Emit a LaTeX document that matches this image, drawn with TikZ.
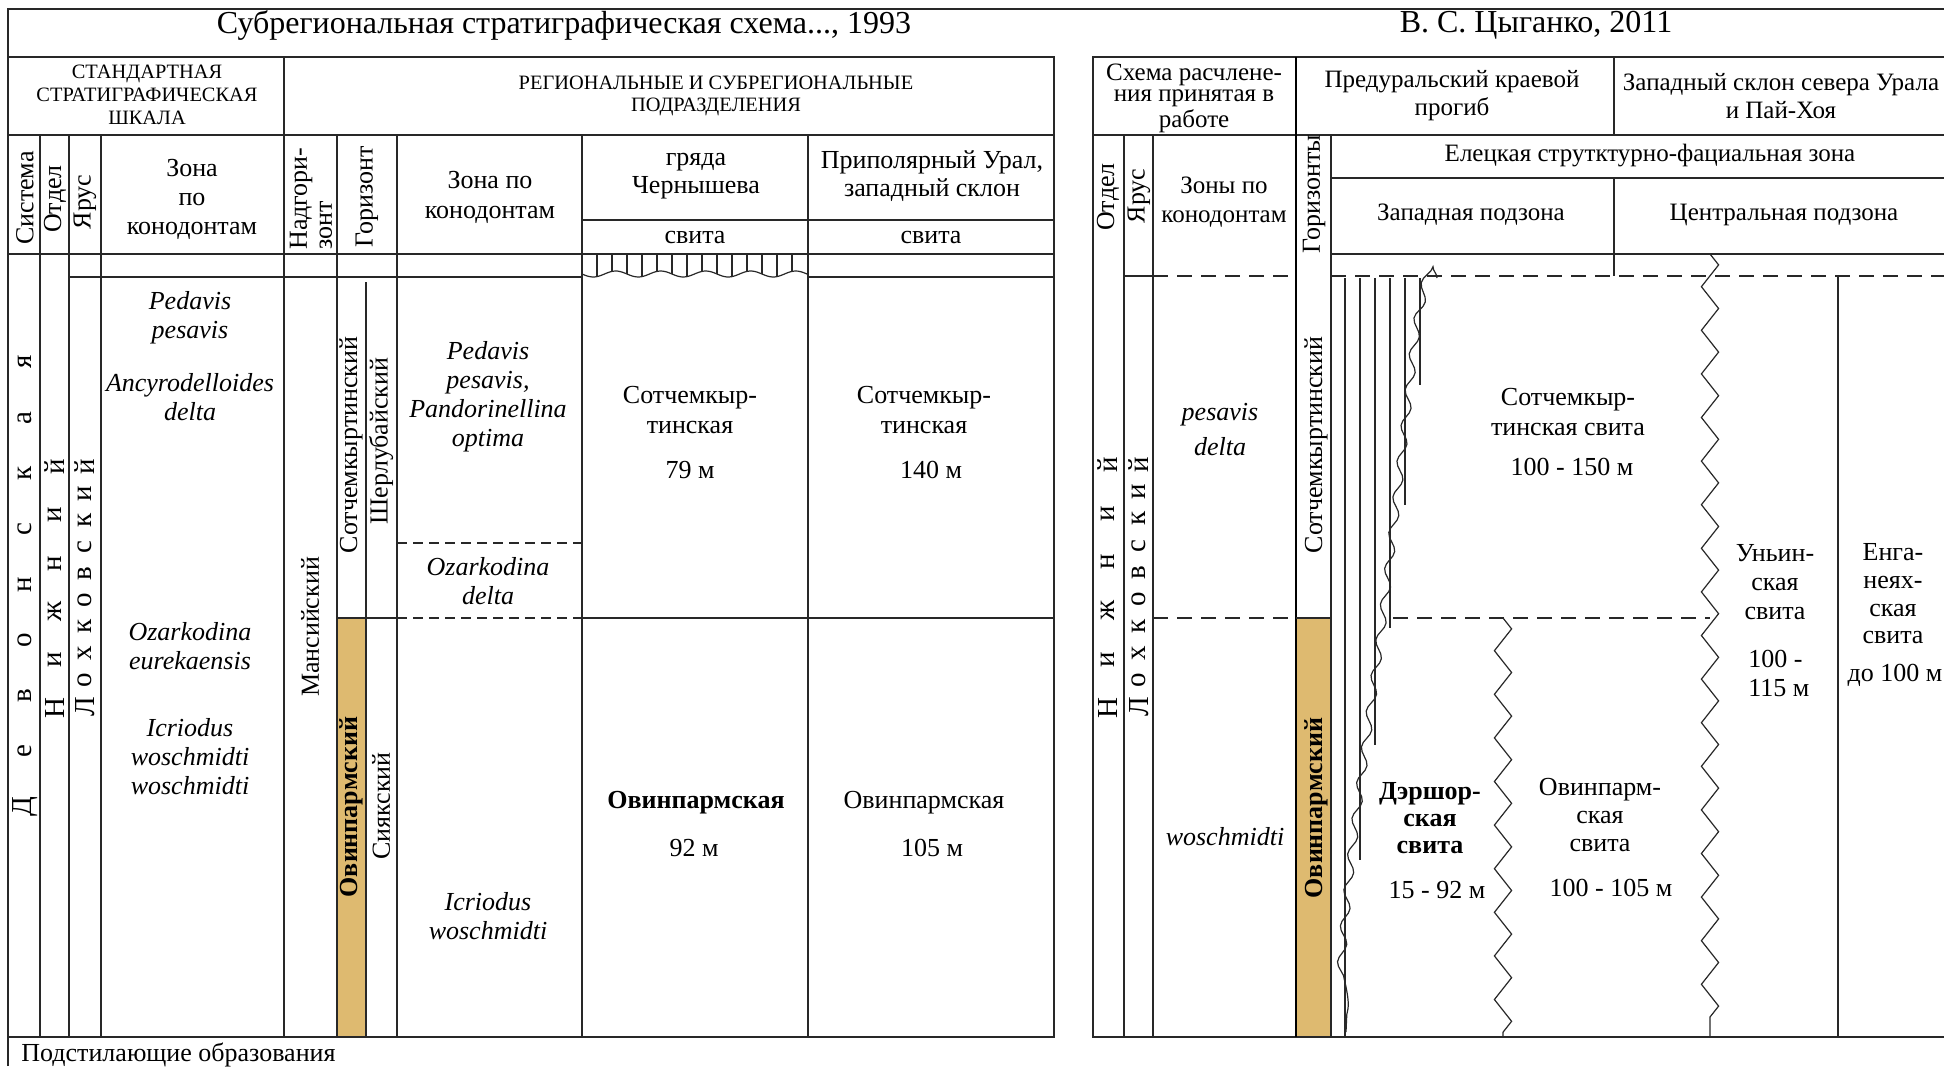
\documentclass[tikz,border=0pt]{standalone}
\usepackage{fontspec}
\setmainfont{Liberation Serif}
\usetikzlibrary{decorations.pathmorphing}
\newcommand\myfs[2]{\fontsize{#1}{#2}\selectfont}
\definecolor{ochre}{RGB}{222,186,112}
\definecolor{ln}{RGB}{40,40,40}
\begin{document}
\begin{tikzpicture}[x=0.5pt,y=-0.5pt,
  frm/.style={draw=ln, line width=0.9pt},
  grd/.style={draw=ln, line width=0.6pt},
  dshl/.style={grd, dash pattern=on 5pt off 3pt},
  dshr/.style={grd, dash pattern=on 7.5pt off 4.5pt},
  t/.style={inner sep=0pt, align=center, font=\myfs{13}{14.5}},
  ti/.style={t, font=\myfs{13}{14.5}\itshape},
  tb/.style={t, font=\myfs{13}{14.5}\bfseries},
  th/.style={t, font=\myfs{10.2}{11.5}},
  tt/.style={t, font=\myfs{16}{18}},
  tr/.style={t, rotate=90},
  trb/.style={tb, rotate=90},
  tl/.style={inner sep=0pt, font=\myfs{14.5}{16}, rotate=90},
  zz/.style={grd, decorate, decoration={zigzag, segment length=21.8pt, amplitude=4.3pt}},
  wv/.style={grd, decorate, decoration={snake, segment length=18pt, amplitude=2pt}}
]
\useasboundingbox (0,0) rectangle (1944,1066);
\fill[white] (0,0) rectangle (1944,1066);

% ================= LEFT TABLE =================
\fill[ochre] (337,618) rectangle (366,1037);
\draw[frm] (8,1066) -- (8,9) -- (1944,9);
\draw[frm] (8,57) -- (1054,57) -- (1054,1037) -- (8,1037);
\draw[grd] (8,135) -- (1054,135);
\draw[grd] (8,254) -- (1054,254);
\draw[grd] (69,277) -- (582,277);
\draw[grd] (808,277) -- (1054,277);
\draw[grd] (582,220) -- (1054,220);
\draw[frm] (284,57) -- (284,1037);
\foreach \xx in {40,69,101,337,397,582,808}
  \draw[grd] (\xx,135) -- (\xx,1037);
\draw[grd] (366,282) -- (366,1037);
\draw[grd] (337,618) -- (397,618);
\draw[grd] (582,618) -- (1054,618);
\draw[dshl] (397,543) -- (582,543);
\draw[dshl] (397,618) -- (582,618);
% hatch under gryada Chernysheva
\draw[grd] plot[domain=582:808, samples=90, smooth] (\x, {274+3*sin((\x-582)*8)});
\foreach \k in {0,...,13}
  \draw[grd] ({597+15*\k},254) -- ({597+15*\k},{274+3*sin((597+15*\k-582)*8)});

% titles
\node[tt] (title1) at (564,25) {Субрегиональная стратиграфическая схема..., 1993};
\node[tt] (title2) at (1536,25) {В. С. Цыганко, 2011};

% headers left
\node[th] (hstd) at (147,95) {СТАНДАРТНАЯ\\СТРАТИГРАФИЧЕСКАЯ\\ШКАЛА};
\node[th, font=\myfs{10.2}{11}] (hreg) at (716,96) {РЕГИОНАЛЬНЫЕ И СУБРЕГИОНАЛЬНЫЕ\\ПОДРАЗДЕЛЕНИЯ};
\node[tr] (hsys) at (25,198) {Система};
\node[tr] (hotd) at (55,199) {Отдел};
\node[tr] (hyar) at (85,202) {Ярус};
\node[t] (hzon) at (192,199) {Зона\\по\\конодонтам};
\node[t, rotate=90, align=left, anchor=west, font=\myfs{13}{12.5}] (hnad) at (311,250) {Надгори-\\зонт};
\node[tr] (hgor) at (367,197) {Горизонт};
\node[t, font=\myfs{13}{15}] (hzon2) at (490,197) {Зона по\\конодонтам};
\node[t, font=\myfs{13}{14}] (hgr) at (696,176) {гряда\\Чернышева};
\node[t, font=\myfs{13}{14}] (hpr) at (932,176) {Приполярный Урал,\\западный склон};
\node[t] (hsv1) at (695,237) {свита};
\node[t] (hsv2) at (931,237) {свита};

% spaced vertical words left
\foreach \ch [count=\i from 0] in {Д,е,в,о,н,с,к,а,я}
  \node[tl] (dev\i) at (25,{807-55.6*\i}) {\ch};
\foreach \ch [count=\i from 0] in {Н,и,ж,н,и,й}
  \node[tl] (niz\i) at (55,{708-48.2*\i}) {\ch};
\foreach \ch [count=\i from 0] in {Л,о,х,к,о,в,с,к,и,й}
  \node[tl] (lox\i) at (85,{707-26.7*\i}) {\ch};

% zone column texts
\node[ti] (z1) at (190,318) {Pedavis\\pesavis};
\node[ti] (z2) at (190,397) {Ancyrodelloides\\delta};
\node[ti] (z3) at (190,646) {Ozarkodina\\eurekaensis};
\node[ti] (z4) at (190,757) {Icriodus\\woschmidti\\woschmidti};

% horizons
\node[tr] (mans) at (310,627) {Мансийский};
\node[tr] (sotl) at (351,445) {Сотчемкыртинский};
\node[tr] (sherl) at (381,441) {Шерлубайский};
\node[trb] (ovl) at (351,807) {Овинпармский};
\node[tr] (siya) at (381,806) {Сиякский};

% regional zones
\node[ti] (rz1) at (488,397) {Pedavis\\pesavis,\\Pandorinellina\\optima};
\node[ti] (rz2) at (488,581) {Ozarkodina\\delta};
\node[ti] (rz3) at (488,916) {Icriodus\\woschmidti};

% suites left
\node[t, font=\myfs{13}{15}] (g1) at (690,410) {Сотчемкыр-\\тинская};
\node[t] (g1m) at (690,470) {79 м};
\node[tb] (g2) at (696,803) {Овинпармская};
\node[t] (g2m) at (694,848) {92 м};
\node[t, font=\myfs{13}{15}] (p1) at (924,410) {Сотчемкыр-\\тинская};
\node[t] (p1m) at (931,470) {140 м};
\node[t] (p2) at (924,803) {Овинпармская};
\node[t] (p2m) at (932,848) {105 м};

\node[t, anchor=west] (podst) at (21,1055) {Подстилающие образования};

% ================= RIGHT TABLE =================
\fill[ochre] (1296,618) rectangle (1331,1037);
\draw[frm] (1944,57) -- (1093,57) -- (1093,1037) -- (1944,1037);
\draw[grd] (1093,135) -- (1944,135);
\draw[frm, line width=1.1pt, draw=black] (1296,57) -- (1296,1037);
\draw[grd] (1614,57) -- (1614,135);
\draw[grd] (1331,135) -- (1331,1037);
\draw[grd] (1331,178) -- (1944,178);
\draw[grd] (1331,254) -- (1944,254);
\draw[grd] (1614,178) -- (1614,276);
\draw[grd] (1124,135) -- (1124,1037);
\draw[grd] (1153,135) -- (1153,1037);
\draw[grd] (1124,276) -- (1153,276);
\draw[dshr] (1153,276) -- (1296,276);
\draw[dshr] (1331,276) -- (1944,276);
\draw[grd] (1296,618) -- (1331,618);
\draw[dshr] (1153,618) -- (1296,618);
\draw[dshr] (1393,618) -- (1710,618);
\draw[grd] (1838,276) -- (1838,1037);

% hatch lines (western subzone)
\draw[grd] (1345,278) -- (1345,1037);
\draw[grd] (1360,278) -- (1360,860);
\draw[grd] (1375,278) -- (1375,745);
\draw[grd] (1390,278) -- (1390,628);
\draw[grd] (1405,278) -- (1405,505);
\draw[grd] (1420,278) -- (1420,385);
\draw[wv] plot[smooth] coordinates {(1437,278) (1425,335) (1417,400) (1405,505) (1391,625) (1375,745) (1360,860) (1350,960) (1346,1032)};

% zigzags
\draw[zz] (1710,254) -- (1710,1037);
\draw[zz] (1503,618) -- (1503,1037);

% headers right
\node[t, font=\myfs{12.5}{10.8}] (rh1) at (1194,98) {Схема расчлене-\\ния принятая в\\работе};
\node[t, font=\myfs{12.5}{14}] (rh2) at (1452,96) {Предуральский краевой\\прогиб};
\node[t, font=\myfs{12.5}{14}] (rh3) at (1781,96) {Западный склон севера Урала\\и Пай-Хоя};
\node[tr] (rotd) at (1108,197) {Отдел};
\node[tr] (ryar) at (1139,196) {Ярус};
\node[t, font=\myfs{12.5}{14.5}] (rzon) at (1224,202) {Зоны по\\конодонтам};
\node[tr] (rgor) at (1314,194) {Горизонты};
\node[t, font=\myfs{12.5}{14}] (rel) at (1650,156) {Елецкая струтктурно-фациальная зона};
\node[t, font=\myfs{12.5}{14}] (rzap) at (1471,215) {Западная подзона};
\node[t, font=\myfs{12.5}{14}] (rcen) at (1784,215) {Центральная подзона};

% spaced vertical words right
\foreach \ch [count=\i from 0] in {Н,и,ж,н,и,й}
  \node[tl] (rniz\i) at (1108,{708-48.6*\i}) {\ch};
\foreach \ch [count=\i from 0] in {Л,о,х,к,о,в,с,к,и,й}
  \node[tl] (rlox\i) at (1139,{707-26.9*\i}) {\ch};

% right body texts
\node[ti, font=\myfs{13}{17.5}\itshape] (rpes) at (1220,430) {pesavis\\delta};
\node[ti] (rwos) at (1225,837) {woschmidti};
\node[tr] (rsot) at (1316,445) {Сотчемкыртинский};
\node[trb] (rovi) at (1316,808) {Овинпармский};

\node[t, font=\myfs{13}{15}] (s1) at (1568,412) {Сотчемкыр-\\тинская свита};
\node[t] (s1m) at (1572,467) {100 - 150 м};
\node[t, font=\myfs{13}{14.5}] (s2) at (1775,582) {Уньин-\\ская\\свита};
\node[t, font=\myfs{13}{14.5}, align=left, anchor=west] (s2m) at (1748,673) {100 -\\115 м};
\node[t, font=\myfs{13}{13.8}] (s3) at (1893,594) {Енга-\\неях-\\ская\\свита};
\node[t] (s3m) at (1895,675) {до 100 м};
\node[tb, font=\myfs{13}{13.4}\bfseries] (s4) at (1430,818) {Дэршор-\\ская\\свита};
\node[t] (s4m) at (1437,890) {15 - 92 м};
\node[t, font=\myfs{13}{14}] (s5) at (1600,815) {Овинпарм-\\ская\\свита};
\node[t] (s5m) at (1611,888) {100 - 105 м};
\end{tikzpicture}
\end{document}
